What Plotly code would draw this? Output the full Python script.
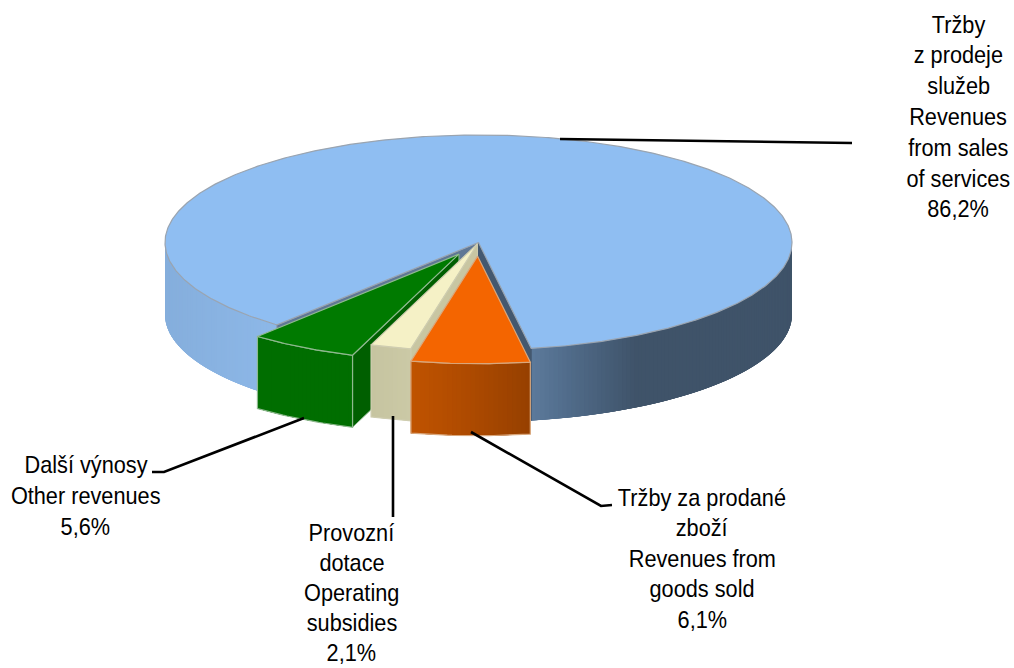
import numpy as np
import plotly.graph_objects as go

# ---- data ----
slice_names = ["Tržby z prodeje služeb", "Tržby za prodané zboží", "Provozní dotace", "Další výnosy"]
slice_values = [86.2, 6.1, 2.1, 5.6]
label_lines = [
    ["Tržby", "z prodeje", "služeb", "Revenues", "from sales", "of services", "86,2%"],
    ["Tržby za prodané", "zboží", "Revenues from", "goods sold", "6,1%"],
    ["Provozní", "dotace", "Operating", "subsidies", "2,1%"],
    ["Další výnosy", "Other revenues", "5,6%"],
]

# ---- geometry and styling ----
W, H = 1014, 668
CX, CY, RX, RY, DEPTH = 478.5, 242.5, 313.5, 107.5, 72.0
START_ANGLE = 220.0
EXPLODE = [0.0, 0.127, 0.012, 0.125]
TOP = ["#8FBEF2", "#F46500", "#F5F1C6", "#007A00"]
EDGE = ["#9AA4B0", "#D9A77C", "#CFCDB0", "#8FB98F"]
CUT = ["#5F7795", None, "#C8C6A2", "#005F00"]
WALL_STOPS = [
    [(0.0, "#85AEDC"), (1.0, "#8DB8E8")],
    [(0.0, "#C05300"), (0.5, "#AD4A00"), (1.0, "#964000")],
    [(0.0, "#C6C4A0"), (1.0, "#CBC9A6")],
    [(0.0, "#006E00"), (1.0, "#006E00")],
]
BLUE_RIGHT_STOPS = [(0.0, "#5C7A9B"), (0.15, "#506B89"), (0.40, "#3F5369"), (1.0, "#3F5369")]
LABEL_POS = [(958, 24, 30.8), (702, 497, 30.5), (351.5, 532, 30.0), (85.5, 464, 31)]
LEADERS = [
    [(560, 139), (852, 143)],
    [(471, 432), (601, 506), (612, 505)],
    [(393, 416), (393, 517)],
    [(304, 418), (164, 472), (152, 472)],
]
FONT = dict(family="Liberation Sans, Arial", size=24, color="#000000")
TEXT_NARROW = 0.905


def hex2rgb(c):
    return np.array([int(c[i:i + 2], 16) for i in (1, 3, 5)], float)


def stop_color(stops, t):
    xs = [s[0] for s in stops]
    rgb = [np.interp(t, xs, [hex2rgb(s[1])[k] for s in stops]) for k in range(3)]
    return "rgb(%d,%d,%d)" % tuple(round(v) for v in rgb)


def rim(ang, off):
    a = np.radians(ang)
    return off[0] + RX * np.sin(a), off[1] - RY * np.cos(a)


def poly(fig, x, y, fill, line=None, lw=1.0):
    fig.add_trace(go.Scatter(
        x=list(x) + [x[0]], y=list(y) + [y[0]], mode="lines", fill="toself", fillcolor=fill,
        line=dict(color=line or fill, width=lw), hoverinfo="skip", showlegend=False))


def wall(fig, a0, a1, off, stops, edge=None):
    """Outer wall between clockwise angles a0 and a1, coloured along the arc.
    Each band overlaps the following ones, so no seams appear between them."""
    n = max(4, int(abs(a1 - a0) * 1.2))
    angs = np.linspace(a0, a1, n + 1)
    xs, ys = rim(angs, off)
    x_lo, x_hi = xs.min(), xs.max()
    for i in range(n):
        t = ((xs[i] + xs[i + 1]) / 2 - x_lo) / (x_hi - x_lo)
        col = stop_color(stops, t)
        j = min(n + 1, i + 5)
        px = list(xs[i:j]) + list(xs[i:j][::-1])
        py = list(ys[i:j]) + list((ys[i:j] + DEPTH)[::-1])
        poly(fig, px, py, col, col, 0)
    if edge:
        ox = list(xs) + list(xs[::-1]) + [xs[0]]
        oy = list(ys) + list(ys[::-1] + DEPTH) + [ys[0]]
        fig.add_trace(go.Scatter(x=ox, y=oy, mode="lines", line=dict(color=edge, width=1.2),
                                 hoverinfo="skip", showlegend=False))


def cut_wall(fig, ang, off, col, edge):
    x, y = rim(ang, off)
    poly(fig, [off[0], x, x, off[0]], [off[1], y, y + DEPTH, off[1] + DEPTH], col, edge, 1.0)


def top(fig, a0, a1, off, col, edge):
    angs = np.linspace(a0, a1, max(8, int((a1 - a0) * 2)))
    xs, ys = rim(angs, off)
    poly(fig, [off[0]] + list(xs), [off[1]] + list(ys), col, edge, 1.2)


fig = go.Figure()

# angular extent of each slice, clockwise from 12 o'clock
spans, a = [], START_ANGLE
for v in slice_values:
    spans.append((a, a + v / sum(slice_values) * 360))
    a = spans[-1][1]


def offset(i):
    mid = np.radians(sum(spans[i]) / 2)
    return CX + EXPLODE[i] * RX * np.sin(mid), CY - EXPLODE[i] * RY * np.cos(mid)


# large slice: walls, radial cuts, top
off = offset(0)
a0, a1 = spans[0]
wall(fig, a0, 270, off, WALL_STOPS[0])
wall(fig, 450, a1, off, BLUE_RIGHT_STOPS)
cut_wall(fig, a0, off, CUT[0], "#7F8FA5")
cut_wall(fig, a1, off, "#44586F", "#44586F")
top(fig, a0, a1, off, TOP[0], EDGE[0])

# exploded slices back to front: green, cream, orange
for i in (3, 2, 1):
    off = offset(i)
    a0, a1 = spans[i]
    if CUT[i]:
        cut_wall(fig, a0, off, CUT[i], EDGE[i])
    wall(fig, a0, a1, off, WALL_STOPS[i], EDGE[i])
    top(fig, a0, a1, off, TOP[i], EDGE[i])

# leader lines
for pts in LEADERS:
    fig.add_trace(go.Scatter(x=[p[0] for p in pts], y=[p[1] for p in pts], mode="lines",
                             line=dict(color="#000000", width=2.6), hoverinfo="skip", showlegend=False))

# labels, one real text item per line so the line pitch matches
for lines, (lx, ly, pitch) in zip(label_lines, LABEL_POS):
    for k, s in enumerate(lines):
        fig.add_annotation(x=lx, y=ly + k * pitch, text=s, showarrow=False, font=FONT,
                           xanchor="center", yanchor="middle")

fig.update_layout(
    width=W, height=H, margin=dict(l=0, r=0, t=0, b=0), paper_bgcolor="white", plot_bgcolor="white",
    xaxis=dict(range=[0, W], visible=False, fixedrange=True),
    yaxis=dict(range=[H, 0], visible=False, fixedrange=True),
    showlegend=False,
)

# The reference face is a condensed sans that is not installed: narrow the text horizontally.
POST = """
document.body.style.margin='0';document.body.style.overflow='hidden';
var gd=document.getElementById('{plot_id}');
function narrow(){
  gd.querySelectorAll('.annotation-text').forEach(function(t){
    var b=t.getBBox(),c=b.x+b.width/2;
    t.setAttribute('transform','translate('+c+' 0) scale(%s 1) translate('+(-c)+' 0)');
  });
}
gd.on('plotly_afterplot',narrow);narrow();setTimeout(narrow,0);
""" % TEXT_NARROW
fig.write_html("out.html", config=dict(displayModeBar=False), post_script=POST)
